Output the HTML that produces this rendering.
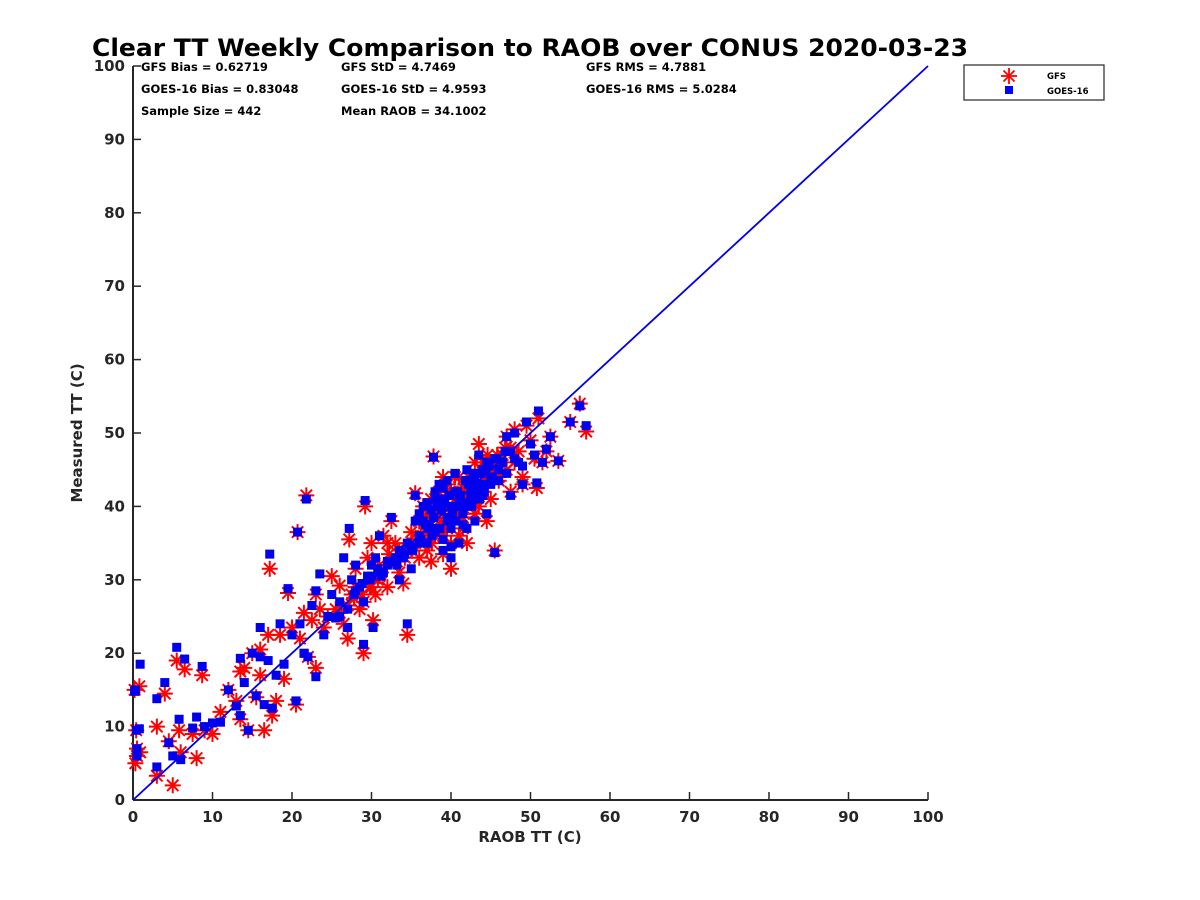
<!DOCTYPE html>
<html><head><meta charset="utf-8"><style>
body{margin:0;background:#fff;}
svg{display:block;font-family:"DejaVu Sans","Liberation Sans",sans-serif;}
</style></head><body>
<svg id="chart" width="1200" height="900">
<text x="92" y="56" textLength="876" lengthAdjust="spacingAndGlyphs" font-size="24" font-weight="bold" fill="#000">Clear TT Weekly Comparison to RAOB over CONUS 2020-03-23</text>
<g font-size="11.5" font-weight="bold" fill="#000">
<text x="141" y="71">GFS Bias = 0.62719</text>
<text x="341" y="71">GFS StD = 4.7469</text>
<text x="586" y="71">GFS RMS = 4.7881</text>
<text x="141" y="93">GOES-16 Bias = 0.83048</text>
<text x="341" y="93">GOES-16 StD = 4.9593</text>
<text x="586" y="93">GOES-16 RMS = 5.0284</text>
<text x="141" y="115">Sample Size = 442</text>
<text x="341" y="115">Mean RAOB = 34.1002</text>
</g>
<g id="axes"></g>
<g id="marks"></g>
<text x="530" y="842" text-anchor="middle" font-size="15" font-weight="bold" fill="#262626">RAOB TT (C)</text>
<text transform="translate(82,433) rotate(-90)" text-anchor="middle" font-size="15" font-weight="bold" fill="#262626">Measured TT (C)</text>
<g>
<rect x="964" y="65" width="140" height="35" fill="#fff" stroke="#262626" stroke-width="1.2"/>
<g stroke="#f00" stroke-width="1.8">
<line x1="1001" y1="76" x2="1017" y2="76"/><line x1="1009" y1="68" x2="1009" y2="84"/><line x1="1003.5" y1="70.5" x2="1014.5" y2="81.5"/><line x1="1003.5" y1="81.5" x2="1014.5" y2="70.5"/></g>
<text x="1047" y="79" font-size="8.5" font-weight="bold">GFS</text>
<rect x="1005" y="86" width="8" height="8" fill="#00f"/>
<text x="1047" y="94" font-size="8.5" font-weight="bold">GOES-16</text>
</g>
</svg>
<script>
const xTicks=[0,10,20,30,40,50,60,70,80,90,100];
const yTicks=[0,10,20,30,40,50,60,70,80,90,100];
const raob=[0.3,0.5,0.5,0.8,0.9,0.2,0.4,3,3,4,4.5,5,5.5,5.8,6,6.5,7.5,8,8.7,9,10,11,12,13,13.5,13.5,14,14.5,15,15.5,16,16,16.5,17,17.2,17.5,18,18.5,19,19.5,20,20.5,20.7,21,21.5,21.8,22,22.5,23,23,23.5,24,24.5,25,25.5,26,26.5,27,27.2,27.5,28,28.5,29,29.2,29.5,30,30.2,30.5,31,31.5,32,32.5,33,33.5,34,34.5,35,35,35.5,36,36,36.5,37,37,37.5,37.8,38,38,38.5,39,39,39.5,40,40,40.5,41,41,41.5,42,42,42.5,43,43,43.5,44,44.5,44.5,45,45.5,45.5,46,46.5,47,47,47.5,48,48.5,49,49,49.5,50,50.5,50.8,51,51.5,52,52.5,53.5,55,56.2,57,36.5,37.5,38.5,39.5,40.5,41.5,42.5,43.5,44,38,39,40,41,42,43,37,36,35.5,34.5,33.5,32,31,30,29,28,27,26,45,46,47.5,48,44,40,39,41.5,36.8,37.8,38.8,39.8,40.8,41.8,42.8,43.8,44.8,45.8,46.8,36.2,37.2,38.2,39.2,40.2,41.2,42.2,43.2,44.2,45.2,35.2,34.2,33.2,32.2,31.2,30.8,29.8,28.8,27.8,39.6,40.6,41.6,42.6,38.6,37.6,43.6,44.6];
const gfs=[5,6,7,15.5,6.5,15,9.5,10,3.3,14.5,8,2,19,9.5,6.5,17.8,9,5.7,17,9.5,9,12,15,13.5,17.5,11,18,9.5,20,14,20.5,17,9.5,22.5,31.5,11.5,13.5,22.5,16.5,28.2,23.5,13,36.5,22,25.5,41.5,19.5,24.5,18,28,26,23.5,25,30.5,26,29.2,24,22,35.5,28,31.5,26,20,40,33,35,24.5,28,32,36,29,38,35,31,29.5,22.5,34,36.5,41.8,33,38,36,39,34,32.5,46.8,41,36,38,40,33.5,43,31.5,39,41,44,36,38.5,42,35,40.5,44,39,48.5,42,45.5,38,41,34,46,43.5,47,45,49.5,42,50.5,47.5,44,43,51,49,46.5,42.5,52,46,47.5,49.5,46.2,51.5,54,50.2,40,41,42,37,44,42,43,40,46,39.5,44,42,39,41,46,37,35.5,35,34,34,35,30.5,29,27,29,26.5,25.5,45,44,48,46,44,35,36,37,38,39,40.5,42,41,43,44,45,46,47,48,36,38,39,41,40,42,44,42.5,43.5,44.5,35,33,32.5,33.5,31,30,29,28,27.5,38,39.5,39,41,36.5,35,42,47];
const goes=[15,7,6,9.7,18.5,14.8,9.5,4.5,13.8,16,7.8,6,20.8,11,5.5,19.2,9.8,11.3,18.2,10,10.5,10.6,15,12.8,19.3,11.5,16,9.5,20,14.2,23.5,19.5,13,19,33.5,12.5,17,24,18.5,28.8,22.5,13.5,36.5,24,20,41,19.5,26.5,16.8,28.5,30.8,22.5,25,28,24.8,27,33,23.5,37,30,32,29,21.2,40.8,30.5,30.5,23.5,33,36,31,32,38.5,33,30,33,24,34.5,31.5,41.5,35,39,38,40.5,35,37,46.7,42,36.5,40,41,34,43.5,33,37,42,41,35,39,45,37,41,44.5,38,47,41.5,46,39,43,33.7,46.5,43.5,46,44.5,49.5,41.5,50,46,45.5,43,51.5,48.5,47,43.2,53,46,47.8,49.5,46.2,51.5,53.7,51,40,39.5,43,38,44.5,40,42,42,45,41,42.5,40,40,43.5,44,37.5,36,38,35,34,32.5,31,32,27,28.5,26,25,44,45,47.5,46.5,43,34.5,35.5,37.5,37.5,38.5,39.5,41.5,42,43.5,44,44.5,45.5,46.5,47.5,35.5,37,40,40.5,39,41.5,43,43,42,44,34,33.5,32,32.5,30.5,31.5,30,29.5,28,38.5,38,40.5,40,37,36,41,46];
const X0=133,X1=928,Y0=800,Y1=66;
const sx=v=>X0+(v-0)/(100-0)*(X1-X0);
const sy=v=>Y0-(v-0)/(100-0)*(Y0-Y1);
const NS="http://www.w3.org/2000/svg";
function mk(t,a,p){const e=document.createElementNS(NS,t);for(const k in a)e.setAttribute(k,a[k]);p.appendChild(e);return e;}
const axes=document.getElementById('axes'),marks=document.getElementById('marks');
const xa=mk('line',{x1:X0,y1:Y0,x2:X1,y2:Y0,stroke:'#262626','stroke-width':2},axes);


const ya=mk('line',{x1:X0,y1:Y0,x2:X0,y2:Y1,stroke:'#262626','stroke-width':2},axes);


xTicks.forEach(t=>{const x=sx(t);
mk('line',{x1:x,y1:Y0,x2:x,y2:Y0-8,stroke:'#262626','stroke-width':1.5},axes);
const tx=mk('text',{x:x,y:Y0+22,'text-anchor':'middle','font-size':15,'font-weight':'bold',fill:'#262626'},axes);tx.textContent=t;

});
yTicks.forEach(t=>{const y=sy(t);
mk('line',{x1:X0,y1:y,x2:X0+8,y2:y,stroke:'#262626','stroke-width':1.5},axes);
const tx=mk('text',{x:X0-8,y:y+5,'text-anchor':'end','font-size':15,'font-weight':'bold',fill:'#262626'},axes);tx.textContent=t;

});
raob.forEach((r,i)=>{const x=sx(r),y=sy(gfs[i]);
const g=mk('g',{stroke:'#f00','stroke-width':2},marks);


mk('line',{x1:x-8,y1:y,x2:x+8,y2:y},g);mk('line',{x1:x,y1:y-8,x2:x,y2:y+8},g);
mk('line',{x1:x-5.7,y1:y-5.7,x2:x+5.7,y2:y+5.7},g);mk('line',{x1:x-5.7,y1:y+5.7,x2:x+5.7,y2:y-5.7},g);});
const one=mk('line',{x1:sx(0),y1:sy(0),x2:sx(100),y2:sy(100),stroke:'#0000ee','stroke-width':1.8},marks);


raob.forEach((r,i)=>{const s=mk('rect',{x:sx(r)-4.5,y:sy(goes[i])-4.5,width:9,height:9,fill:'#0000ee'},marks);

});
</script>
</body></html>
